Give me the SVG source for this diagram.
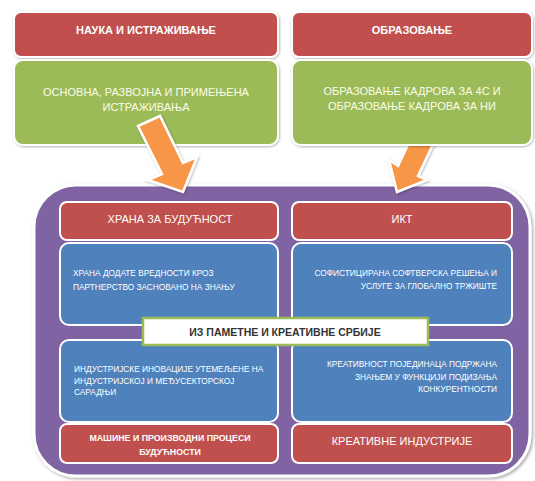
<svg xmlns="http://www.w3.org/2000/svg" width="535" height="481" viewBox="0 0 535 481">
<defs>
<filter id="sh" x="-10%" y="-10%" width="120%" height="120%">
<feDropShadow dx="1.5" dy="1.5" stdDeviation="1.5" flood-color="#000" flood-opacity="0.35"/>
</filter>
<filter id="shs" x="-10%" y="-10%" width="120%" height="130%">
<feDropShadow dx="0.8" dy="1" stdDeviation="0.8" flood-color="#000" flood-opacity="0.3"/>
</filter>
</defs>
<style>
.red{fill:#C0504D;stroke:#fff;stroke-width:2}
.green{fill:#9BBB59;stroke:#fff;stroke-width:2}
.blue{fill:#4F81BD;stroke:#fff;stroke-width:2}
.purple{fill:#8064A2;stroke:#fff;stroke-width:3}
.arrow{fill:#F79646;stroke:#fff;stroke-width:2.5;stroke-linejoin:miter}
.label{fill:#fff;stroke:#9BBB59;stroke-width:2.5}
text{font-family:"Liberation Sans",Arial,sans-serif;fill:#fff}
.b{font-weight:bold}
.c{text-anchor:middle}
.r{text-anchor:end}
.g{fill:#fbfbe8}
.dark{fill:#333;font-weight:bold}
</style>
<rect width="535" height="481" fill="#fff"/>

<g id="outer">
<rect class="purple" x="34" y="185" width="496" height="291" rx="42" filter="url(#sh)"/>
</g>

<g id="connectors">
<polygon id="arrow-right" class="arrow" filter="url(#shs)" points="416,128 436,138 418,176 427,180 397,192 389,160 398,166"/>
</g>

<g id="nauka">
<rect class="red" x="14" y="12" width="264" height="45" rx="7" filter="url(#shs)"/>
<text class="b c" x="146" y="34" font-size="11">НАУКА И ИСТРАЖИВАЊЕ</text>
</g>
<g id="obrazovanje">
<rect class="red" x="292" y="12" width="240" height="45" rx="7" filter="url(#shs)"/>
<text class="b c" x="412" y="34" font-size="11">ОБРАЗОВАЊЕ</text>
</g>
<g id="istrazivanja">
<rect class="green" x="14" y="60" width="264" height="85" rx="9" filter="url(#shs)"/>
<text class="c g" x="146" y="96" font-size="11">ОСНОВНА, РАЗВОЈНА И ПРИМЕЊЕНА</text>
<text class="c g" x="146" y="111" font-size="11">ИСТРАЖИВАЊА</text>
</g>
<g id="kadrovi">
<rect class="green" x="292" y="60" width="240" height="85" rx="9" filter="url(#shs)"/>
<text class="c g" x="412" y="95" font-size="11">ОБРАЗОВАЊЕ КАДРОВА ЗА 4С И</text>
<text class="c g" x="412" y="110" font-size="11">ОБРАЗОВАЊЕ КАДРОВА ЗА НИ</text>
</g>

<g id="connectors-2">
<polygon id="arrow-left" class="arrow" filter="url(#shs)" points="138,126 160,116 183,163 197,157 183,192 148,180 162,174"/>
</g>

<g id="hrana">
<rect class="red" x="60" y="202" width="218" height="38" rx="7"/>
<text class="c" x="170" y="223" font-size="11">ХРАНА ЗА БУДУЋНОСТ</text>
</g>
<g id="ikt">
<rect class="red" x="292" y="202" width="220" height="38" rx="7"/>
<text class="c" x="402" y="223" font-size="11">ИКТ</text>
</g>
<g id="hrana-opis">
<rect class="blue" x="60" y="243" width="218" height="82" rx="9"/>
<text x="73" y="276" font-size="8.3">ХРАНА ДОДАТЕ ВРЕДНОСТИ КРОЗ</text>
<text x="73" y="290" font-size="8.3">ПАРТНЕРСТВО ЗАСНОВАНО НА ЗНАЊУ</text>
</g>
<g id="ikt-opis">
<rect class="blue" x="292" y="243" width="220" height="82" rx="9"/>
<text class="r" x="497" y="276" font-size="8.3">СОФИСТИЦИРАНА СОФТВЕРСКА РЕШЕЊА И</text>
<text class="r" x="497" y="289" font-size="8.3">УСЛУГЕ ЗА ГЛОБАЛНО ТРЖИШТЕ</text>
</g>
<g id="industrija-opis">
<rect class="blue" x="60" y="340" width="218" height="82" rx="9"/>
<text x="74" y="372" font-size="8.3">ИНДУСТРИЈСКЕ ИНОВАЦИЈЕ УТЕМЕЉЕНЕ НА</text>
<text x="74" y="384" font-size="8.3">ИНДУСТРИЈСКОЈ И МЕЂУСЕКТОРСКОЈ</text>
<text x="74" y="395" font-size="8.3">САРАДЊИ</text>
</g>
<g id="kreativnost-opis">
<rect class="blue" x="292" y="340" width="220" height="82" rx="9"/>
<text class="r" x="497" y="367" font-size="8.3">КРЕАТИВНОСТ ПОЈЕДИНАЦА ПОДРЖАНА</text>
<text class="r" x="497" y="380" font-size="8.3">ЗНАЊЕМ У ФУНКЦИЈИ ПОДИЗАЊА</text>
<text class="r" x="497" y="392" font-size="8.3">КОНКУРЕНТНОСТИ</text>
</g>
<g id="masine">
<rect class="red" x="60" y="424" width="218" height="39" rx="7"/>
<text class="b c" x="170" y="441" font-size="8.8">МАШИНЕ И ПРОИЗВОДНИ ПРОЦЕСИ</text>
<text class="b c" x="170" y="455" font-size="8.8">БУДУЋНОСТИ</text>
</g>
<g id="kreativne-industrije">
<rect class="red" x="292" y="424" width="220" height="39" rx="7"/>
<text class="c" x="402" y="445" font-size="11">КРЕАТИВНЕ ИНДУСТРИЈЕ</text>
</g>
<g id="srbija">
<rect class="label" x="143" y="318" width="285" height="27"/>
<text class="dark c" x="285" y="336" font-size="10.5">ИЗ ПАМЕТНЕ И КРЕАТИВНЕ СРБИЈЕ</text>
</g>
</svg>
